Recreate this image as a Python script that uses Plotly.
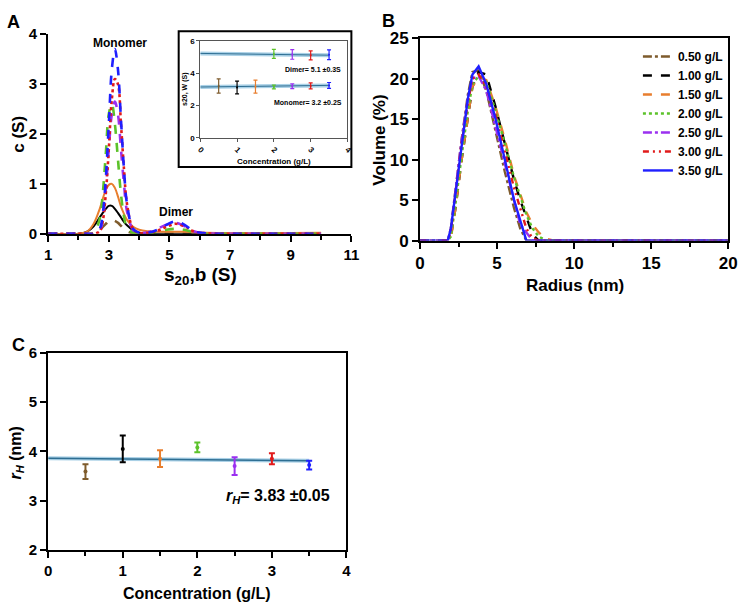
import plotly.graph_objects as go

# ---------------- data ----------------
conc_labels = ["0.50 g/L", "1.00 g/L", "1.50 g/L", "2.00 g/L", "2.50 g/L", "3.00 g/L", "3.50 g/L"]
colors = ["#7E5B2C", "#000000", "#E87E2E", "#5CC22A", "#9B30F0", "#E11B1B", "#1F1FFF"]

# Panel A: c(S) distributions
s_grid = [1.0, 2.0, 2.3, 2.5, 2.7, 2.8, 2.9, 3.0, 3.1, 3.2, 3.3, 3.4, 3.5, 3.6, 3.8, 4.0,
          4.3, 4.6, 4.9, 5.2, 5.5, 5.8, 6.2, 7.0, 8.0, 10.0]
cs_050 = [0, 0, 0, 0, 0.08, 0.14, 0.20, 0.26, 0.28, 0.26, 0.22, 0.16, 0.10, 0.05, 0.01, 0,
          0, 0, 0, 0, 0, 0, 0, 0, 0, 0]
cs_100 = [0, 0, 0.05, 0.15, 0.33, 0.42, 0.50, 0.56, 0.56, 0.50, 0.42, 0.33, 0.24, 0.17, 0.07, 0.02,
          0, 0, 0, 0, 0, 0, 0, 0, 0, 0.01]
cs_150 = [0, 0, 0.05, 0.20, 0.50, 0.70, 0.88, 0.98, 1.00, 0.92, 0.75, 0.55, 0.40, 0.28, 0.14, 0.08,
          0.05, 0.04, 0.04, 0.04, 0.04, 0.03, 0.02, 0.01, 0.01, 0.02]
cs_200 = [0, 0, 0, 0.02, 0.30, 0.80, 1.60, 2.40, 2.60, 2.20, 1.50, 0.80, 0.35, 0.12, 0.02, 0,
          0.01, 0.04, 0.08, 0.10, 0.08, 0.03, 0, 0, 0, 0]
cs_250 = [0, 0, 0, 0, 0.05, 0.30, 0.90, 1.70, 2.40, 2.65, 2.40, 1.70, 1.00, 0.45, 0.08, 0.02,
          0.03, 0.10, 0.18, 0.22, 0.15, 0.05, 0.01, 0, 0, 0]
cs_300 = [0, 0, 0, 0, 0.05, 0.25, 0.80, 1.70, 2.70, 3.10, 3.00, 2.20, 1.30, 0.60, 0.10, 0.02,
          0.02, 0.06, 0.14, 0.20, 0.15, 0.05, 0.01, 0, 0, 0]
cs_350 = [0, 0, 0, 0, 0.10, 0.40, 1.10, 2.20, 3.30, 3.70, 3.30, 2.30, 1.30, 0.60, 0.10, 0.02,
          0.02, 0.08, 0.18, 0.25, 0.18, 0.05, 0.01, 0, 0, 0]
cs_all = [cs_050, cs_100, cs_150, cs_200, cs_250, cs_300, cs_350]

# Inset: s20,w vs concentration
inset_conc = [0.5, 1.0, 1.5, 2.0, 2.5, 3.0, 3.5]
mono_s = [3.21, 3.12, 3.17, 3.15, 3.20, 3.22, 3.25]
mono_err = [0.44, 0.40, 0.40, 0.12, 0.15, 0.18, 0.18]
dimer_conc = [2.0, 2.5, 3.0, 3.5]
dimer_s = [5.20, 5.17, 5.11, 5.15]
dimer_err = [0.28, 0.30, 0.28, 0.30]
dimer_colors = ["#5CC22A", "#9B30F0", "#E11B1B", "#1F1FFF"]
mono_fit_x = [0, 3.5]
mono_fit_y = [3.15, 3.25]
dimer_fit_x = [0, 3.5]
dimer_fit_y = [5.23, 5.12]

# Panel B: DLS volume distributions
r_grid = [0, 1.0, 1.8, 2.0, 2.3, 2.7, 3.1, 3.4, 3.8, 4.3, 4.9, 5.5, 6.1, 6.5, 6.9, 7.3, 7.7,
          8.2, 8.7, 10, 12.5, 15, 20]
vol_050 = [0, 0, 0, 1.5, 6.5, 12.5, 18.0, 20.8, 21.0, 18.5, 13.5, 8.5, 4.0, 1.5, 0, 0, 0,
           0, 0, 0, 0, 0, 0]
vol_100 = [0, 0, 0, 0.5, 4.0, 10.0, 15.5, 19.0, 20.8, 20.5, 16.5, 12.0, 7.5, 5.0, 2.8, 0.8, 0,
           0, 0, 0, 0, 0, 0]
vol_150 = [0, 0, 0, 0.3, 4.0, 10.0, 15.5, 19.0, 20.2, 19.8, 16.5, 12.5, 8.0, 5.8, 3.5, 2.0, 1.0,
           0.2, 0, 0, 0, 0, 0]
vol_200 = [0, 0, 0, 0.5, 4.5, 10.5, 16.0, 19.3, 20.3, 19.6, 16.0, 12.0, 7.8, 5.5, 3.2, 1.5, 0.5,
           0, 0, 0, 0, 0, 0]
vol_250 = [0, 0, 0, 1.5, 6.5, 12.5, 17.5, 20.0, 20.3, 18.5, 14.0, 9.5, 5.0, 2.0, 1.0, 0, 0,
           0, 0, 0, 0, 0, 0]
vol_300 = [0, 0, 0, 1.2, 6.0, 12.0, 17.0, 20.0, 20.5, 19.0, 15.5, 11.0, 6.5, 4.0, 1.5, 0.3, 0,
           0, 0, 0, 0, 0, 0]
vol_350 = [0, 0, 0, 1.5, 6.0, 12.0, 17.5, 20.5, 21.5, 19.3, 15.0, 10.0, 5.0, 2.5, 0, 0, 0,
           0, 0, 0, 0, 0, 0]
vol_all = [vol_050, vol_100, vol_150, vol_200, vol_250, vol_300, vol_350]

# Panel C: hydrodynamic radius
rh_conc = [0.5, 1.0, 1.5, 2.0, 2.5, 3.0, 3.5]
rh_val = [3.59, 4.05, 3.85, 4.08, 3.70, 3.85, 3.72]
rh_err = [0.15, 0.27, 0.17, 0.10, 0.18, 0.11, 0.09]
rh_fit_x = [0, 3.5]
rh_fit_y = [3.86, 3.81]

# ---------------- styles ----------------
dash_A = ["dash", "solid", "solid", "dash", "dash", "dot", "dash"]
dash_B = ["dashdot", "dash", "dash", "dot", "dashdot", "6px,4px,2px,4px,2px,4px", "solid"]
FONT = "Liberation Sans, Arial, sans-serif"
W, H = 747, 613

fig = go.Figure()

# Panel A curves
for i in range(7):
    fig.add_trace(go.Scatter(
        x=s_grid, y=cs_all[i], mode="lines", line_shape="spline",
        line=dict(color=colors[i], width=2.6 if dash_A[i] != "solid" else 2.0, dash=dash_A[i]),
        xaxis="x", yaxis="y", showlegend=False))

# Inset fit lines
for fx, fy in [(mono_fit_x, mono_fit_y), (dimer_fit_x, dimer_fit_y)]:
    fig.add_trace(go.Scatter(x=fx, y=fy, mode="lines", line=dict(color="#A9D0E6", width=4),
                             xaxis="x2", yaxis="y2", showlegend=False))
    fig.add_trace(go.Scatter(x=fx, y=fy, mode="lines", line=dict(color="#2E6E92", width=1),
                             xaxis="x2", yaxis="y2", showlegend=False))
for i in range(7):
    fig.add_trace(go.Scatter(
        x=[inset_conc[i]], y=[mono_s[i]], mode="markers",
        marker=dict(color=colors[i], size=2),
        error_y=dict(type="data", array=[mono_err[i]], color=colors[i], thickness=1.2, width=2),
        xaxis="x2", yaxis="y2", showlegend=False))
for i in range(4):
    fig.add_trace(go.Scatter(
        x=[dimer_conc[i]], y=[dimer_s[i]], mode="markers",
        marker=dict(color=dimer_colors[i], size=2),
        error_y=dict(type="data", array=[dimer_err[i]], color=dimer_colors[i], thickness=1.2, width=2),
        xaxis="x2", yaxis="y2", showlegend=False))

# Panel B curves
for i in range(7):
    fig.add_trace(go.Scatter(
        x=r_grid, y=vol_all[i], mode="lines", name=conc_labels[i],
        line=dict(color=colors[i], width=2.4, dash=dash_B[i]),
        xaxis="x3", yaxis="y3", showlegend=True))

# Panel C
fig.add_trace(go.Scatter(x=rh_fit_x, y=rh_fit_y, mode="lines", line=dict(color="#A9D0E6", width=4),
                         xaxis="x4", yaxis="y4", showlegend=False))
fig.add_trace(go.Scatter(x=rh_fit_x, y=rh_fit_y, mode="lines", line=dict(color="#2E6E92", width=1.5),
                         xaxis="x4", yaxis="y4", showlegend=False))
for i in range(7):
    fig.add_trace(go.Scatter(
        x=[rh_conc[i]], y=[rh_val[i]], mode="markers",
        marker=dict(color=colors[i], size=4),
        error_y=dict(type="data", array=[rh_err[i]], color=colors[i], thickness=2, width=3),
        xaxis="x4", yaxis="y4", showlegend=False))


def px_x(px):
    return px / W


def px_y(py):
    return 1 - py / H


def tfont(size):
    return dict(family=FONT, size=size, color="black", weight="bold")


base_axis = dict(showline=True, linecolor="black", linewidth=2, ticks="outside", ticklen=6,
                 tickwidth=2, tickcolor="black", showgrid=False, zeroline=False)

fig.update_layout(
    width=W, height=H, margin=dict(l=0, r=0, t=0, b=0),
    paper_bgcolor="white", plot_bgcolor="rgba(0,0,0,0)",
    font=dict(family=FONT, color="black"),
    xaxis=dict(base_axis, domain=[px_x(44), px_x(353)], range=[1, 11], tick0=1, dtick=2,
               tickfont=tfont(15),
               minor=dict(dtick=1, ticks="outside", ticklen=4, tickwidth=2, tickcolor="black"),
               anchor="y"),
    yaxis=dict(base_axis, domain=[px_y(232), px_y(26)], range=[0, 4], dtick=1, anchor="x",
               tickfont=tfont(15)),
    xaxis2=dict(showline=True, linecolor="#555", linewidth=1, mirror=True, ticks="outside",
                ticklen=3, tickwidth=1, tickcolor="#555", showgrid=False, zeroline=False,
                domain=[px_x(199), px_x(349)], range=[0, 4], dtick=1, tickangle=45,
                tickfont=tfont(8), anchor="y2"),
    yaxis2=dict(showline=True, linecolor="#555", linewidth=1, mirror=True, ticks="outside",
                ticklen=3, tickwidth=1, tickcolor="#555", showgrid=False, zeroline=False,
                domain=[px_y(133), px_y(33)], range=[0, 6], dtick=2,
                tickfont=tfont(8), anchor="x2"),
    xaxis3=dict(base_axis, domain=[px_x(423), px_x(737)], range=[0, 20], dtick=5, mirror=True,
                tickfont=tfont(17),
                minor=dict(dtick=2.5, ticks="outside", ticklen=4, tickwidth=2, tickcolor="black"),
                anchor="y3"),
    yaxis3=dict(base_axis, domain=[px_y(239), px_y(30)], range=[0, 25], dtick=5, mirror=True,
                tickfont=tfont(17), anchor="x3"),
    xaxis4=dict(base_axis, domain=[px_x(44), px_x(348)], range=[0, 4], dtick=1, mirror=True,
                tickfont=tfont(15),
                minor=dict(dtick=0.5, ticks="outside", ticklen=4, tickwidth=2, tickcolor="black"),
                anchor="y4"),
    yaxis4=dict(base_axis, domain=[px_y(558), px_y(355)], range=[2, 6], dtick=1, mirror=True,
                tickfont=tfont(15), anchor="x4"),
    legend=dict(x=px_x(645), y=px_y(34), xanchor="left", yanchor="top",
                font=tfont(12), bgcolor="rgba(0,0,0,0)", itemwidth=30, tracegroupgap=0),
)

# inset frame
fig.add_shape(type="rect", xref="paper", yref="paper",
              x0=px_x(177), x1=px_x(353), y0=px_y(163), y1=px_y(23),
              line=dict(color="black", width=2), fillcolor="rgba(255,255,255,0)", layer="below")


def ann(text, x, y, size, angle=0, xanchor="center", bold=True):
    fig.add_annotation(text=text, xref="paper", yref="paper", x=px_x(x), y=px_y(y),
                       xanchor=xanchor, yanchor="middle", showarrow=False, textangle=angle,
                       font=dict(family=FONT, size=size, color="black",
                                 weight="bold" if bold else "normal"))


# panel letters
ann("A", 9, 13, 18)
ann("B", 391, 12, 18)
ann("C", 14, 347, 18)

# axis titles
ann("c (S)", 13, 129, 17, angle=-90)
ann("s<sub>20</sub>,b (S)", 199, 276, 19)
ann("Volume (%)", 382, 135, 17, angle=-90)
ann("Radius (nm)", 581, 285, 17)
ann("<i>r<sub>H</sub></i> (nm)", 12, 458, 16, angle=-90)
ann("Concentration (g/L)", 196, 603, 16)
ann("s20, W (S)", 184, 83, 7, angle=-90)
ann("Concentration (g/L)", 274, 157, 8)

# labels
ann("Monomer", 117, 35, 12)
ann("Dimer", 174, 209, 12)
ann("Dimer= 5.1 \u00b10.3S", 344, 62, 7, xanchor="right")
ann("Monomer= 3.2 \u00b10.2S", 345, 97, 7, xanchor="right")
ann("<i>r<sub>H</sub></i>= 3.83 \u00b10.05", 223, 503, 16, xanchor="left")

fig.write_html("out.html", config={"displayModeBar": False},
               post_script="document.body.style.margin='0';document.body.style.overflow='hidden';")
